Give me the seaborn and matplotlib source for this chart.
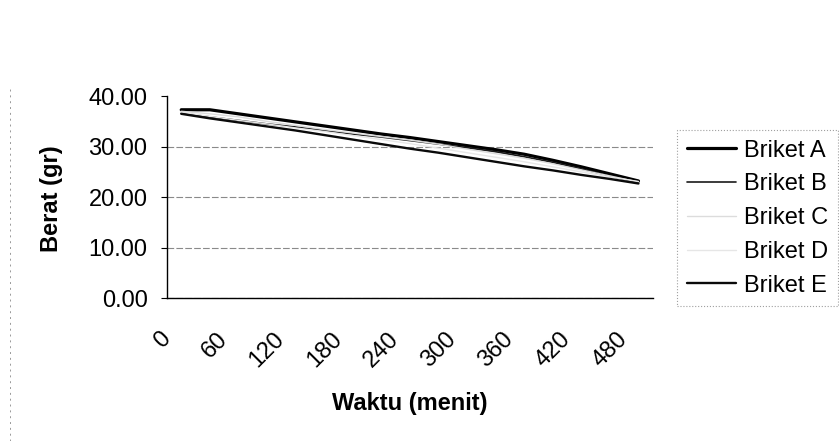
"""
Grafik penurunan berat briket terhadap waktu (gaya grafik Excel hasil scan).
"""

import matplotlib
import matplotlib.pyplot as plt
import pandas as pd
import seaborn as sns
from matplotlib.lines import Line2D

matplotlib.use("Agg")

# --- Data ---
waktu = [0, 30, 60, 90, 120, 150, 180, 210, 240, 270, 300, 330, 360, 390, 420, 450, 480]
briket_a = [37.3, 37.3, 36.5, 35.7, 34.9, 34.1, 33.3, 32.5, 31.8, 31.0, 30.2, 29.4, 28.5, 27.3, 26.0, 24.6, 23.2]
briket_b = [36.6, 35.9, 35.2, 34.5, 33.9, 33.2, 32.5, 31.9, 31.2, 30.5, 29.8, 29.0, 28.0, 26.9, 25.6, 24.2, 22.9]
briket_c = [37.0, 36.5, 35.9, 35.0, 34.2, 33.4, 32.7, 32.0, 31.3, 30.5, 29.5, 28.6, 27.7, 26.6, 25.4, 24.2, 23.0]
briket_d = [36.8, 36.0, 35.2, 34.5, 33.7, 33.0, 32.2, 31.4, 30.6, 29.7, 28.8, 27.9, 27.0, 26.0, 25.0, 24.0, 23.1]
briket_e = [36.5, 35.6, 34.8, 34.0, 33.2, 32.3, 31.4, 30.5, 29.6, 28.8, 27.9, 27.0, 26.1, 25.3, 24.4, 23.6, 22.7]
nama_seri = ["Briket A", "Briket B", "Briket C", "Briket D", "Briket E"]
y_ticks = [0, 10, 20, 30, 40]

sns.set_theme(style="white")
plt.rcParams["font.family"] = ["Liberation Sans", "DejaVu Sans"]
plt.rcParams["text.color"] = "black"
plt.rcParams["xtick.color"] = "black"
plt.rcParams["ytick.color"] = "black"
plt.rcParams["axes.labelcolor"] = "black"

FS = 17  # ukuran huruf

# Data dalam format panjang untuk seaborn (sumbu x = indeks kategori)
df = pd.DataFrame(
    {
        "kategori": list(range(len(waktu))) * 5,
        "berat": briket_a + briket_b + briket_c + briket_d + briket_e,
        "seri": [n for n in nama_seri for _ in waktu],
    }
)

warna = {
    "Briket A": "#000000",
    "Briket B": "#1a1a1a",
    "Briket C": "#dcdcdc",
    "Briket D": "#e6e6e6",
    "Briket E": "#0a0a0a",
}
tebal = {"Briket A": 2.3, "Briket B": 1.2, "Briket C": 1.0, "Briket D": 1.0, "Briket E": 1.7}

fig = plt.figure(figsize=(8.39, 4.41), dpi=100)
ax = fig.add_axes([0.199, 0.324, 0.579, 0.458])

for nama in nama_seri:
    sub = df[df["seri"] == nama]
    sns.lineplot(
        data=sub, x="kategori", y="berat", color=warna[nama],
        linewidth=tebal[nama], label=nama, ax=ax,
    )

# Sumbu Y
ax.set_ylim(0, 40)
ax.set_yticks(y_ticks)
ax.set_yticklabels([f"{v:.2f}" for v in y_ticks], fontsize=FS)
ax.set_ylabel("Berat (gr)", fontsize=FS, fontweight="bold")
ax.yaxis.set_label_coords(-0.214, 0.49)
ax.yaxis.grid(True, color="#8a8a8a", linestyle=(0, (6, 2)), linewidth=0.8)
ax.get_ygridlines()[-1].set_visible(False)

# Sumbu X kategori: garis tick di batas kategori, label tiap 60 menit
# (label digeser sedikit ke kiri agar ujung teks miring sejajar pusat kategori)
n = len(waktu)
ax.set_xlim(-0.5, n - 0.5)
ax.set_xticks([i - 0.5 for i in range(0, n, 2)])
ax.set_xticklabels([str(w) for w in waktu[::2]], rotation=45, ha="right", va="center",
                   rotation_mode="anchor", fontsize=FS)
ax.set_xticks([i - 0.5 for i in range(n + 1)], minor=True)
ax.tick_params(axis="x", which="major", length=0, pad=27)
ax.tick_params(axis="x", which="minor", length=5, width=0.8, color="black", direction="out")
ax.tick_params(axis="y", length=4, width=0.8, color="black", direction="out", left=True, pad=10)
ax.set_xlabel("Waktu (menit)", fontsize=FS, fontweight="bold")
ax.xaxis.set_label_coords(0.5, -0.465)

for s in ("top", "right"):
    ax.spines[s].set_visible(False)
for s in ("left", "bottom"):
    ax.spines[s].set_color("black")
    ax.spines[s].set_linewidth(1.0)

# Legenda di sebelah kanan
leg = ax.legend(
    loc="upper left", bbox_to_anchor=(0.807, 0.705), bbox_transform=fig.transFigure,
    fontsize=FS, frameon=True, handlelength=2.1, handletextpad=0.34,
    labelspacing=0.5, borderaxespad=0, fancybox=False,
)
leg.get_frame().set_edgecolor("#888888")
leg.get_frame().set_linestyle(":")
leg.get_frame().set_linewidth(0.8)

# Garis batas area grafik (kiri) seperti hasil scan
fig.add_artist(Line2D([0.012, 0.012], [0.0, 0.8], transform=fig.transFigure,
                      color="#999999", linestyle=(0, (2, 4)), linewidth=0.7))

fig.savefig("out.png", dpi=100)
plt.close(fig)
